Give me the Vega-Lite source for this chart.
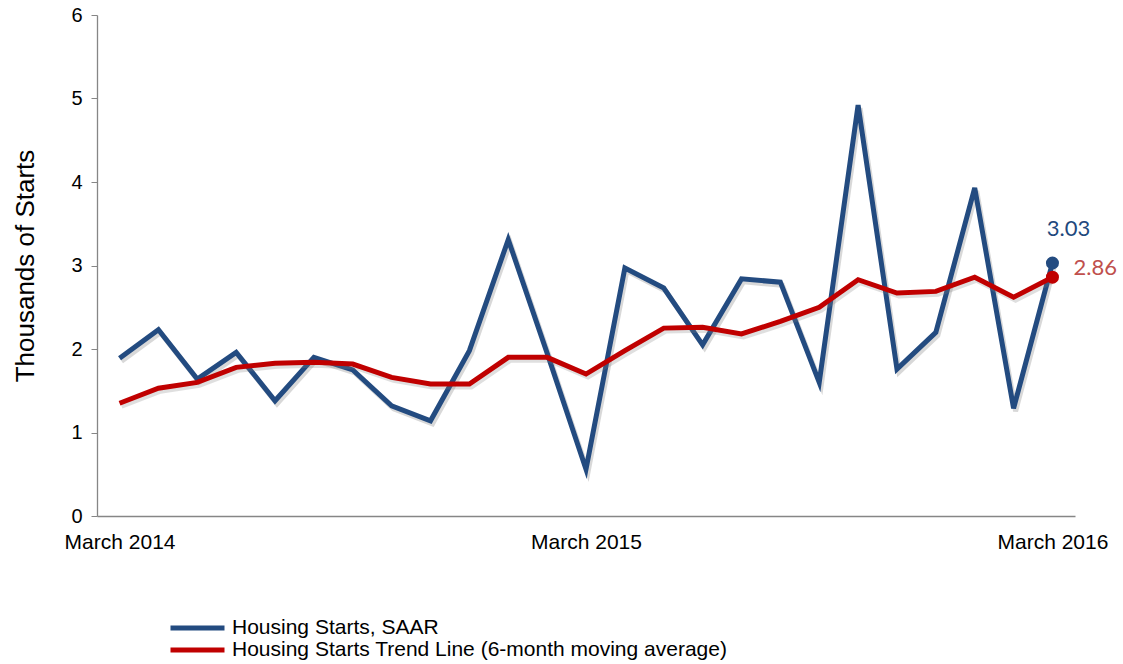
{
  "$schema": "https://vega.github.io/schema/vega-lite/v6.json",
  "autosize": {"type": "none"},
  "padding": {"left": 97, "top": 15, "right": 48, "bottom": 148},
  "width": 978,
  "height": 501,
  "background": "white",
  "config": {
    "view": {"stroke": null},
    "font": "Liberation Sans"
  },
  "data": {
    "values": [
      {"month": "2014-03", "series": "Housing Starts, SAAR", "value": 1.89},
      {"month": "2014-04", "series": "Housing Starts, SAAR", "value": 2.23},
      {"month": "2014-05", "series": "Housing Starts, SAAR", "value": 1.64},
      {"month": "2014-06", "series": "Housing Starts, SAAR", "value": 1.96},
      {"month": "2014-07", "series": "Housing Starts, SAAR", "value": 1.38},
      {"month": "2014-08", "series": "Housing Starts, SAAR", "value": 1.90},
      {"month": "2014-09", "series": "Housing Starts, SAAR", "value": 1.75},
      {"month": "2014-10", "series": "Housing Starts, SAAR", "value": 1.32},
      {"month": "2014-11", "series": "Housing Starts, SAAR", "value": 1.14},
      {"month": "2014-12", "series": "Housing Starts, SAAR", "value": 1.98},
      {"month": "2015-01", "series": "Housing Starts, SAAR", "value": 3.31},
      {"month": "2015-02", "series": "Housing Starts, SAAR", "value": 1.95},
      {"month": "2015-03", "series": "Housing Starts, SAAR", "value": 0.56},
      {"month": "2015-04", "series": "Housing Starts, SAAR", "value": 2.97},
      {"month": "2015-05", "series": "Housing Starts, SAAR", "value": 2.73},
      {"month": "2015-06", "series": "Housing Starts, SAAR", "value": 2.05},
      {"month": "2015-07", "series": "Housing Starts, SAAR", "value": 2.84},
      {"month": "2015-08", "series": "Housing Starts, SAAR", "value": 2.80},
      {"month": "2015-09", "series": "Housing Starts, SAAR", "value": 1.60},
      {"month": "2015-10", "series": "Housing Starts, SAAR", "value": 4.92},
      {"month": "2015-11", "series": "Housing Starts, SAAR", "value": 1.76},
      {"month": "2015-12", "series": "Housing Starts, SAAR", "value": 2.20},
      {"month": "2016-01", "series": "Housing Starts, SAAR", "value": 3.93},
      {"month": "2016-02", "series": "Housing Starts, SAAR", "value": 1.29},
      {"month": "2016-03", "series": "Housing Starts, SAAR", "value": 3.03},
      {"month": "2014-03", "series": "Housing Starts Trend Line (6-month moving average)", "value": 1.35},
      {"month": "2014-04", "series": "Housing Starts Trend Line (6-month moving average)", "value": 1.53},
      {"month": "2014-05", "series": "Housing Starts Trend Line (6-month moving average)", "value": 1.60},
      {"month": "2014-06", "series": "Housing Starts Trend Line (6-month moving average)", "value": 1.78},
      {"month": "2014-07", "series": "Housing Starts Trend Line (6-month moving average)", "value": 1.83},
      {"month": "2014-08", "series": "Housing Starts Trend Line (6-month moving average)", "value": 1.84},
      {"month": "2014-09", "series": "Housing Starts Trend Line (6-month moving average)", "value": 1.82},
      {"month": "2014-10", "series": "Housing Starts Trend Line (6-month moving average)", "value": 1.66},
      {"month": "2014-11", "series": "Housing Starts Trend Line (6-month moving average)", "value": 1.58},
      {"month": "2014-12", "series": "Housing Starts Trend Line (6-month moving average)", "value": 1.58},
      {"month": "2015-01", "series": "Housing Starts Trend Line (6-month moving average)", "value": 1.90},
      {"month": "2015-02", "series": "Housing Starts Trend Line (6-month moving average)", "value": 1.90},
      {"month": "2015-03", "series": "Housing Starts Trend Line (6-month moving average)", "value": 1.70},
      {"month": "2015-04", "series": "Housing Starts Trend Line (6-month moving average)", "value": 1.98},
      {"month": "2015-05", "series": "Housing Starts Trend Line (6-month moving average)", "value": 2.25},
      {"month": "2015-06", "series": "Housing Starts Trend Line (6-month moving average)", "value": 2.26},
      {"month": "2015-07", "series": "Housing Starts Trend Line (6-month moving average)", "value": 2.18},
      {"month": "2015-08", "series": "Housing Starts Trend Line (6-month moving average)", "value": 2.33},
      {"month": "2015-09", "series": "Housing Starts Trend Line (6-month moving average)", "value": 2.50},
      {"month": "2015-10", "series": "Housing Starts Trend Line (6-month moving average)", "value": 2.83},
      {"month": "2015-11", "series": "Housing Starts Trend Line (6-month moving average)", "value": 2.67},
      {"month": "2015-12", "series": "Housing Starts Trend Line (6-month moving average)", "value": 2.69},
      {"month": "2016-01", "series": "Housing Starts Trend Line (6-month moving average)", "value": 2.86},
      {"month": "2016-02", "series": "Housing Starts Trend Line (6-month moving average)", "value": 2.62},
      {"month": "2016-03", "series": "Housing Starts Trend Line (6-month moving average)", "value": 2.86}
    ]
  },
  "encoding": {
    "x": {
      "field": "month",
      "type": "ordinal",
      "scale": {"type": "point", "padding": 0.58},
      "axis": {
        "title": null,
        "values": ["2014-03", "2015-03", "2016-03"],
        "labelExpr": "'March ' + slice(datum.value, 0, 4)",
        "labelAngle": 0,
        "ticks": false,
        "labelPadding": 15,
        "labelFontSize": 21,
        "labelColor": "#000000",
        "domainColor": "#868686",
        "domainWidth": 1.3,
        "grid": false
      }
    },
    "y": {
      "field": "value",
      "type": "quantitative",
      "scale": {"domain": [0, 6], "nice": false, "zero": true},
      "axis": {
        "title": "Thousands of Starts",
        "titleFontSize": 26,
        "titleFontWeight": "normal",
        "titleColor": "#000000",
        "titlePadding": 32,
        "values": [0, 1, 2, 3, 4, 5, 6],
        "labelFontSize": 20,
        "labelColor": "#000000",
        "labelPadding": 9,
        "tickColor": "#868686",
        "tickSize": 6,
        "domainColor": "#868686",
        "domainWidth": 1.3,
        "grid": false
      }
    }
  },
  "layer": [
    {
      "transform": [{"filter": "datum.series == 'Housing Starts, SAAR'"}],
      "mark": {"type": "line", "strokeWidth": 5, "stroke": "#7f7f7f", "opacity": 0.3, "xOffset": 2, "yOffset": 3},
      "encoding": {}
    },
    {
      "transform": [{"filter": "datum.series == 'Housing Starts, SAAR'"}],
      "mark": {"type": "line", "strokeWidth": 5, "strokeJoin": "miter"},
      "encoding": {
        "color": {
          "field": "series",
          "type": "nominal",
          "scale": {
            "domain": ["Housing Starts, SAAR", "Housing Starts Trend Line (6-month moving average)"],
            "range": ["#234B80", "#C00000"]
          },
          "legend": {
            "title": null,
            "orient": "none",
            "legendX": 71,
            "legendY": 602,
            "direction": "vertical",
            "symbolType": "stroke",
            "symbolSize": 2916,
            "symbolStrokeWidth": 5,
            "labelFontSize": 21,
            "labelColor": "#000000",
            "labelOffset": 5,
            "clipHeight": 22,
            "rowPadding": 0,
            "padding": 0,
            "labelLimit": 800
          }
        }
      }
    },
    {
      "transform": [{"filter": "datum.series != 'Housing Starts, SAAR'"}],
      "mark": {"type": "line", "strokeWidth": 5, "stroke": "#7f7f7f", "opacity": 0.25, "xOffset": 2, "yOffset": 3},
      "encoding": {}
    },
    {
      "transform": [{"filter": "datum.series != 'Housing Starts, SAAR'"}],
      "mark": {"type": "line", "strokeWidth": 5},
      "encoding": {
        "color": {"field": "series", "type": "nominal"}
      }
    },
    {
      "transform": [{"filter": "datum.month == '2016-03'"}],
      "mark": {"type": "point", "filled": true, "opacity": 1, "size": 170},
      "encoding": {
        "color": {"field": "series", "type": "nominal"}
      }
    },
    {
      "transform": [{"filter": "datum.month == '2016-03' && datum.series == 'Housing Starts, SAAR'"}],
      "mark": {"type": "text", "font": "Lato", "fontSize": 22, "color": "#1F497D", "dx": 16, "dy": -34, "align": "center", "baseline": "middle"},
      "encoding": {"text": {"field": "value", "type": "quantitative", "format": ".2f"}}
    },
    {
      "transform": [{"filter": "datum.month == '2016-03' && datum.series != 'Housing Starts, SAAR'"}],
      "mark": {"type": "text", "font": "Lato", "fontSize": 22, "color": "#C0504D", "dx": 21, "dy": -9, "align": "left", "baseline": "middle"},
      "encoding": {"text": {"field": "value", "type": "quantitative", "format": ".2f"}}
    }
  ]
}
